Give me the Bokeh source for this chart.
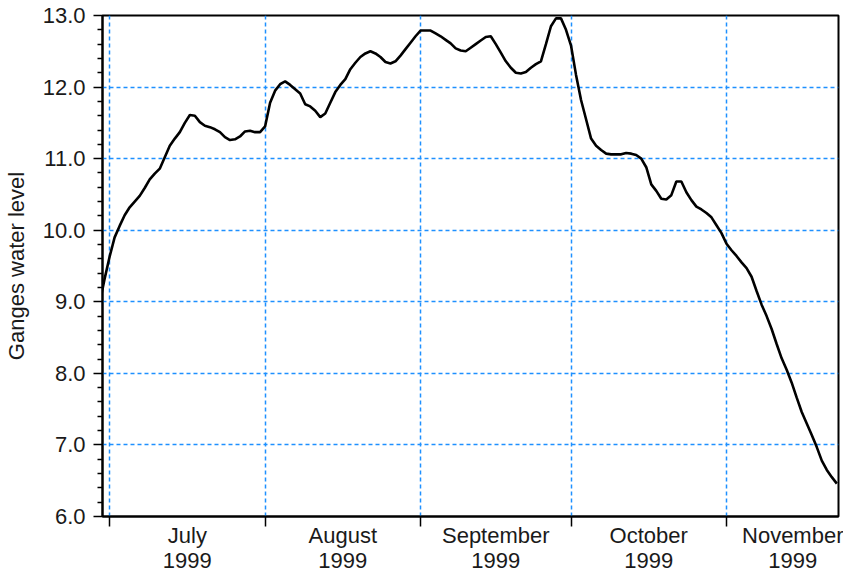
import pandas as pd
from bokeh.plotting import figure
from bokeh.models import Range1d, FixedTicker, PrintfTickFormatter
from bokeh.embed import file_html
from bokeh.resources import INLINE

# ---- data ----
start_date = "1999-06-29"
levels = [
    # June 29-30
    8.98, 9.32,
    # July
    9.63, 9.90, 10.06, 10.21, 10.32, 10.40, 10.48, 10.59, 10.71, 10.79,
    10.86, 11.02, 11.18, 11.28, 11.37, 11.50, 11.61, 11.60, 11.51, 11.46,
    11.44, 11.41, 11.37, 11.30, 11.26, 11.27, 11.31, 11.38, 11.39, 11.37, 11.37,
    # August
    11.45, 11.78, 11.95, 12.04, 12.08, 12.03, 11.97, 11.91, 11.76, 11.73,
    11.67, 11.58, 11.63, 11.78, 11.93, 12.03, 12.11, 12.25, 12.34, 12.42,
    12.47, 12.50, 12.47, 12.42, 12.35, 12.33, 12.36, 12.44, 12.53, 12.62, 12.71,
    # September
    12.79, 12.79, 12.79, 12.75, 12.71, 12.66, 12.61, 12.54, 12.51, 12.50,
    12.55, 12.60, 12.65, 12.70, 12.71, 12.60, 12.48, 12.36, 12.27, 12.20,
    12.19, 12.21, 12.27, 12.32, 12.36, 12.60, 12.85, 12.96, 12.96, 12.80,
    # October
    12.58, 12.17, 11.82, 11.55, 11.28, 11.18, 11.12, 11.07, 11.06, 11.06,
    11.06, 11.08, 11.07, 11.05, 11.00, 10.88, 10.64, 10.55, 10.44, 10.43,
    10.49, 10.68, 10.68, 10.53, 10.42, 10.33, 10.29, 10.24, 10.18, 10.07, 9.96,
    # November 1-23
    9.81, 9.72, 9.64, 9.55, 9.47, 9.35, 9.15, 8.96, 8.80, 8.62,
    8.41, 8.21, 8.05, 7.87, 7.66, 7.46, 7.30, 7.14, 6.97, 6.78,
    6.65, 6.55, 6.46,
]
month_starts = ["1999-07-01", "1999-08-01", "1999-09-01", "1999-10-01", "1999-11-01", "1999-12-01"]
month_names = ["July", "August", "September", "October", "November"]
month_years = ["1999", "1999", "1999", "1999", "1999"]
x_start, x_end = "1999-06-29 14:00", "1999-11-23 08:00"
y_ticks = [6, 7, 8, 9, 10, 11, 12, 13]
y_grid = [7, 8, 9, 10, 11, 12]
y_minor = [round(6 + 0.2 * i, 1) for i in range(36) if i % 5 != 0]


def ms(s):
    return int(pd.Timestamp(s).value // 10**6)


dates = pd.date_range(start_date, periods=len(levels), freq="D")
xs = [int(d.value // 10**6) for d in dates]
starts_ms = [ms(s) for s in month_starts]
X0, X1 = ms(x_start), ms(x_end)

# ---- layout ----
W, H = 843, 576
BL, BT, BR, BB = 102, 15, 5, 60
ms_per_px = (X1 - X0) / (W - BL - BR)
half_w = 47  # keep the last month label inside the canvas
mids_ms = [min((a + b) // 2, int(X1 + (BR - half_w) * ms_per_px))
           for a, b in zip(starts_ms[:-1], starts_ms[1:])]

FONT = "Liberation Sans"
TXT = "#1a1a1a"
FS = "22px"

p = figure(width=W, height=H, output_backend="svg", toolbar_location=None,
           x_range=Range1d(X0, X1), y_range=Range1d(6, 13),
           min_border_left=BL, min_border_right=BR, min_border_top=BT, min_border_bottom=BB,
           background_fill_color="white", border_fill_color="white")

p.line(xs, levels, line_color="black", line_width=2.6)

p.outline_line_color = "black"
p.outline_line_width = 2

# grids
p.xgrid.ticker = FixedTicker(ticks=starts_ms[:-1])
p.ygrid.ticker = FixedTicker(ticks=y_grid)
for g in (p.xgrid[0], p.ygrid[0]):
    g.grid_line_color = "#1E90FF"
    g.grid_line_dash = "4 3"
    g.grid_line_width = 1.5

# y axis
ya = p.yaxis[0]
ya.ticker = FixedTicker(ticks=y_ticks, minor_ticks=y_minor)
ya.formatter = PrintfTickFormatter(format="%.1f")
ya.axis_line_color = "black"
ya.axis_line_width = 2
ya.major_tick_in = 0
ya.major_tick_out = 9
ya.minor_tick_in = 0
ya.minor_tick_out = 5
ya.major_tick_line_width = 1.5
ya.minor_tick_line_width = 1.5
ya.major_label_standoff = 8
ya.major_label_text_font = FONT
ya.major_label_text_font_size = FS
ya.major_label_text_color = TXT
ya.axis_label = "Ganges water level"
ya.axis_label_text_font = FONT
ya.axis_label_text_font_size = FS
ya.axis_label_text_font_style = "normal"
ya.axis_label_text_color = TXT
ya.axis_label_standoff = 11

# x axis: ticks at month starts, two-line labels at mid-month
xa = p.xaxis[0]
xa.ticker = FixedTicker(ticks=mids_ms, minor_ticks=starts_ms[:-1])
xa.major_label_overrides = {m: f"{n}\n{y}" for m, n, y in zip(mids_ms, month_names, month_years)}
xa.axis_line_color = "black"
xa.axis_line_width = 2
xa.major_tick_line_color = None
xa.major_tick_in = 0
xa.major_tick_out = 0
xa.minor_tick_in = 0
xa.minor_tick_out = 10
xa.minor_tick_line_color = "black"
xa.minor_tick_line_width = 1.5
xa.major_label_standoff = -4
xa.major_label_text_font = FONT
xa.major_label_text_font_size = FS
xa.major_label_text_color = TXT
xa.major_label_text_line_height = 1.0

open("out.html", "w").write(file_html(p, INLINE))
